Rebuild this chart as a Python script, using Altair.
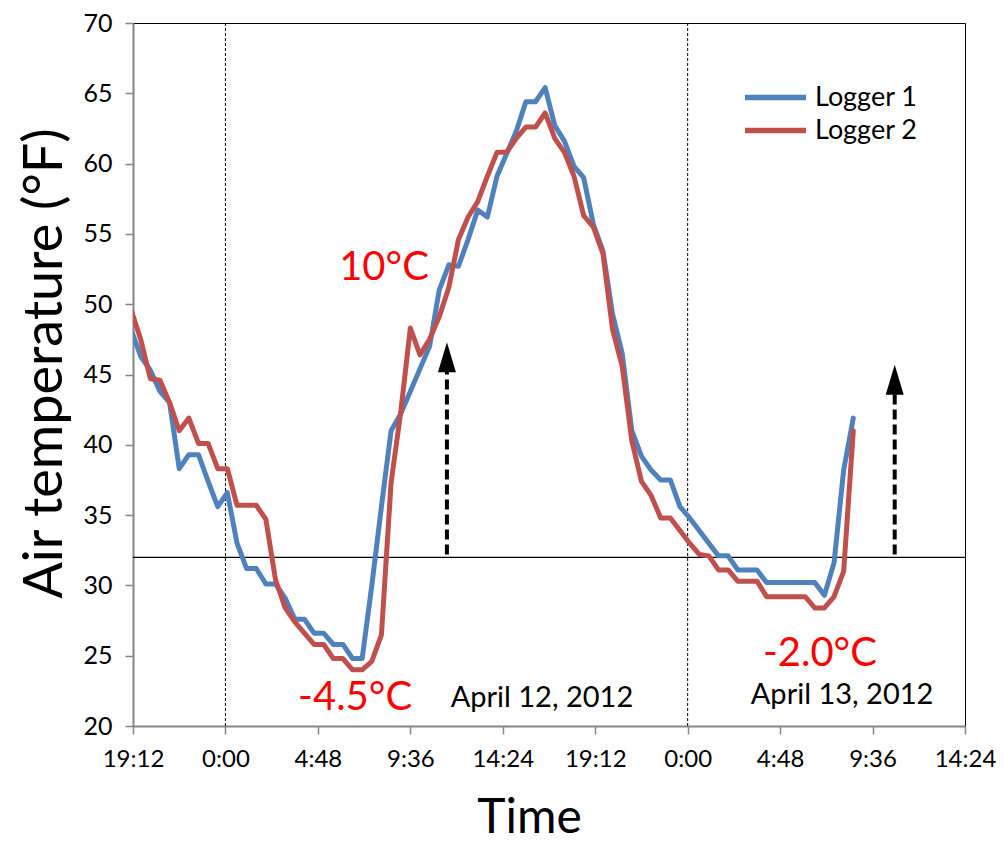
import altair as alt
import pandas as pd

# ---- data ----
start_time = "2012-04-11 19:06"
step = "30min"
logger1 = [48.2, 46.3, 45.3, 43.8, 43.0, 38.3, 39.3, 39.3, 37.4, 35.6,
           36.6, 33.0, 31.2, 31.2, 30.1, 30.1, 29.1, 27.6, 27.6, 26.6,
           26.6, 25.8, 25.8, 24.8, 24.8, 30.0, 35.6, 41.0, 42.2, 43.8,
           45.4, 47.0, 51.0, 52.8, 52.7, 54.6, 56.7, 56.2, 59.1, 60.7,
           62.3, 64.4, 64.4, 65.4, 62.7, 61.6, 59.8, 59.0, 55.7, 53.8,
           49.3, 46.5, 41.0, 39.2, 38.2, 37.5, 37.5, 35.6, 34.8, 33.9,
           33.0, 32.1, 32.1, 31.1, 31.1, 31.1, 30.2, 30.2, 30.2, 30.2,
           30.2, 30.2, 29.3, 31.6, 38.2, 41.9]
logger2 = [49.6, 47.5, 44.7, 44.6, 43.0, 41.0, 41.9, 40.1, 40.1, 38.3,
           38.3, 35.7, 35.7, 35.7, 34.7, 30.4, 28.4, 27.4, 26.6, 25.8,
           25.8, 24.8, 24.8, 24.0, 24.0, 24.6, 26.5, 37.3, 42.3, 48.3,
           46.4, 47.5, 49.1, 51.2, 54.6, 56.2, 57.3, 59.1, 60.8, 60.8,
           61.8, 62.6, 62.6, 63.6, 61.8, 60.8, 59.1, 56.3, 55.5, 53.6,
           48.2, 45.6, 40.3, 37.4, 36.4, 34.8, 34.8, 33.9, 33.0, 32.2,
           32.1, 31.1, 31.1, 30.3, 30.3, 30.3, 29.2, 29.2, 29.2, 29.2,
           29.2, 28.4, 28.4, 29.2, 31.0, 41.0]
series_names = ["Logger 1", "Logger 2"]
series_colors = ["#4F81BD", "#C0504D"]

y_ticks = [20, 25, 30, 35, 40, 45, 50, 55, 60, 65, 70]
x_tick_times = [(11, 19, 12), (12, 0, 0), (12, 4, 48), (12, 9, 36), (12, 14, 24),
                (12, 19, 12), (13, 0, 0), (13, 4, 48), (13, 9, 36), (13, 14, 24)]
freezing_f = [32]
midnights = ["2012-04-12T00:00:00", "2012-04-13T00:00:00"]

arrow_times = ["2012-04-12T11:30:00", "2012-04-13T10:45:00"]
arrow_base = [32.2, 32.2]
arrow_tip = [47.3, 45.7]

red_labels = ["10°C", "-4.5°C", "-2.0°C"]
red_times = ["2012-04-12T08:14:00", "2012-04-12T06:44:00", "2012-04-13T06:52:00"]
red_vals = [52.6, 22.0, 25.1]
date_labels = ["April 12, 2012", "April 13, 2012"]
date_times = ["2012-04-12T16:26:00", "2012-04-13T08:01:00"]
date_vals = [22.0, 22.2]

# ---- build tables ----
times = pd.date_range(start_time, periods=len(logger1), freq=step)
df = pd.DataFrame({
    "time": [t.strftime("%Y-%m-%dT%H:%M:%S") for t in times] * 2,
    "temp": logger1 + logger2,
    "series": [series_names[0]] * len(logger1) + [series_names[1]] * len(logger2),
})

def dt(d, h, m):
    return alt.DateTime(year=2012, month=4, date=d, hours=h, minutes=m)

x_scale = alt.Scale(domain=[dt(11, 19, 12), dt(13, 14, 24)])
y_scale = alt.Scale(domain=[20, 70], nice=False, zero=False)

x_axis = alt.Axis(values=[dt(*v) for v in x_tick_times], format="%-H:%M",
                  title="Time", labelFontSize=24, titleFontSize=48,
                  tickSize=8, labelPadding=13, titleX=396, titleY=92,
                  titleBaseline="middle", labelFlush=False, labelOverlap=False)
y_axis = alt.Axis(values=y_ticks, title="Air temperature (°F)", labelFontSize=25,
                  titleFontSize=54, tickSize=8, labelPadding=13,
                  titleX=-88, titleY=340, titleAngle=-90, titleAlign="center",
                  titleBaseline="middle")

lines = alt.Chart(df).mark_line(strokeWidth=5, strokeJoin="round", strokeCap="round",
                                clip=True).encode(
    x=alt.X("time:T", scale=x_scale, axis=x_axis),
    y=alt.Y("temp:Q", scale=y_scale, axis=y_axis),
    color=alt.Color("series:N",
                    scale=alt.Scale(domain=series_names, range=series_colors),
                    legend=alt.Legend(orient="none", legendX=609, legendY=58, title=None,
                                      symbolType="stroke", symbolStrokeWidth=5.5,
                                      symbolSize=3721, labelFontSize=27, labelFont="Lato",
                                      clipHeight=33, rowPadding=0, labelOffset=6,
                                      labelColor="black")),
)

mid_df = pd.DataFrame({"time": midnights})
mid_rules = alt.Chart(mid_df).mark_rule(color="black", strokeWidth=1,
                                        strokeDash=[3, 2]).encode(x="time:T")

frz = alt.Chart(pd.DataFrame({"t": freezing_f})).mark_rule(
    color="black", strokeWidth=1.2).encode(y="t:Q")

arr_df = pd.DataFrame({"time": arrow_times, "base": arrow_base, "tip": arrow_tip})
shaft = alt.Chart(arr_df).mark_rule(color="black", strokeWidth=4, strokeDash=[10, 5],
                                    y2Offset=26).encode(x="time:T", y="base:Q", y2="tip:Q")
head = alt.Chart(arr_df).mark_point(shape="M0,-1L0.6,1L-0.6,1Z", size=900, filled=True,
                                    color="black", opacity=1, strokeWidth=0,
                                    yOffset=15).encode(x="time:T", y="tip:Q")

red_df = pd.DataFrame({"time": red_times, "v": red_vals, "label": red_labels})
red_text = alt.Chart(red_df).mark_text(font="Lato", fontSize=40, color="#FF0000",
                                       align="center", baseline="middle").encode(
    x="time:T", y="v:Q", text="label:N")

date_df = pd.DataFrame({"time": date_times, "v": date_vals, "label": date_labels})
date_text = alt.Chart(date_df).mark_text(font="Lato", fontSize=29, color="black",
                                         align="center", baseline="middle").encode(
    x="time:T", y="v:Q", text="label:N")

chart = alt.layer(mid_rules, frz, lines, shaft, head, red_text, date_text).properties(
    width=832, height=703,
    autosize=alt.AutoSizeParams(type="none"),
    padding={"left": 125, "top": 15, "right": 31, "bottom": 118},
).configure(font="Lato").configure_view(
    stroke="black", strokeWidth=1
).configure_axis(
    domainColor="#868686", domainWidth=2, tickColor="#868686", tickWidth=1.5,
    grid=False, labelColor="black", titleColor="black", titleFontWeight="normal",
    labelFont="Lato", titleFont="Lato"
)

chart.save("out.html", embed_options={"renderer": "svg", "actions": False})
